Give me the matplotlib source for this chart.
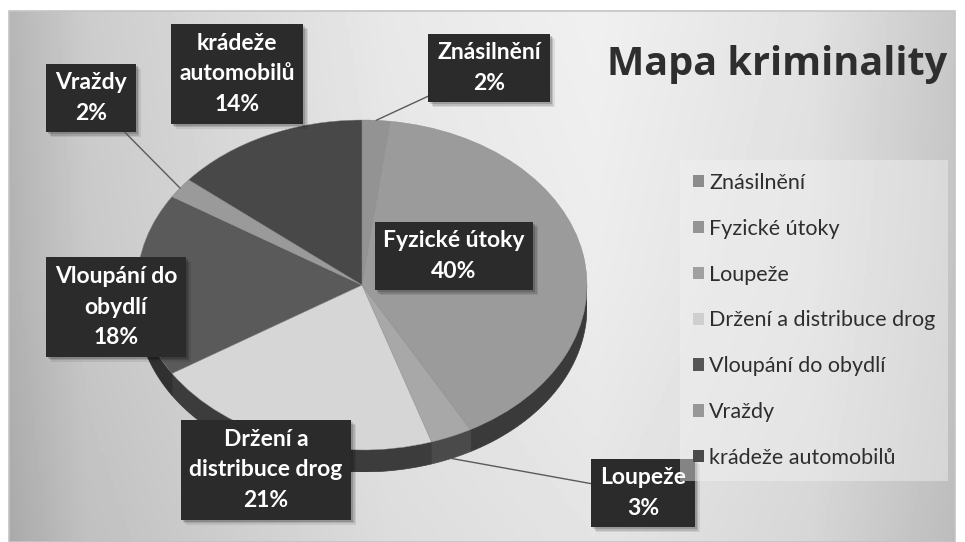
import numpy as np
import matplotlib
matplotlib.use("Agg")
import matplotlib.pyplot as plt
from matplotlib.patches import Polygon, Rectangle

# data
categories = ["Znásilnění", "Fyzické útoky", "Loupeže", "Držení a distribuce drog",
              "Vloupání do obydlí", "Vraždy", "krádeže automobilů"]
values = [2, 40, 3, 21, 18, 2, 14]
box_labels = ["Znásilnění", "Fyzické útoky", "Loupeže", "Držení a\ndistribuce drog",
              "Vloupání do\nobydlí", "Vraždy", "krádeže\nautomobilů"]
colors = ["#939393", "#9b9b9b", "#a8a8a8", "#d6d6d6", "#5a5a5a", "#9a9a9a", "#484848"]
side_colors = ["#3e3e3e", "#3a3a3a", "#4a4a4a", "#3c3c3c", "#303030", "#3e3e3e", "#2e2e2e"]
legend_colors = ["#8c8c8c", "#949494", "#a0a0a0", "#cfcfcf", "#555555", "#979797", "#4a4a4a"]

W, H = 965, 542
fig = plt.figure(figsize=(W / 100, H / 100), dpi=100)
fig.patch.set_facecolor("white")

# background panel with grey gradient
ax_bg = fig.add_axes([0, 0, 1, 1], zorder=0)
ax_bg.set_xlim(0, W)
ax_bg.set_ylim(H, 0)
ax_bg.axis("off")
gx = np.linspace(0, 1, 300)
row = np.interp(gx, [0, 0.08, 0.4, 0.62, 0.85, 1], [178, 200, 228, 236, 222, 196])
gy = np.linspace(0, 1, 100)
col = np.interp(gy, [0, 0.5, 1], [4, 0, -8])
grad = np.clip(row[None, :] + col[:, None], 0, 255) / 255
ax_bg.imshow(grad, cmap="gray", vmin=0, vmax=1, extent=(9, 955, 542, 11), aspect="auto")
ax_bg.add_patch(Rectangle((9, 11), 946, 531, fill=False, edgecolor="#c4c4c4", lw=1.2))

# pie axes, stretched so the circle becomes a tilted ellipse
cx, cy, a, b, depth = 362, 285, 225, 165, 22
d = depth / b
ax_pie = fig.add_axes([(cx - a) / W, (H - (cy + b + depth)) / H, 2 * a / W, (2 * b + depth) / H],
                      zorder=1)
ax_pie.patch.set_alpha(0)

# side band of the 3D pie (front half only)
fracs = np.array(values) / sum(values)
cum = np.concatenate([[0], np.cumsum(fracs)])
for i in range(len(values)):
    t_start = 90 - 360 * cum[i]
    t_end = 90 - 360 * cum[i + 1]
    t = np.radians(np.linspace(t_end, t_start, 300))
    t = t[np.sin(t) <= 0]
    if len(t) < 2:
        continue
    top = np.column_stack([np.cos(t), np.sin(t)])
    bot = np.column_stack([np.cos(t), np.sin(t) - d])[::-1]
    ax_pie.add_patch(Polygon(np.vstack([top, bot]), closed=True, facecolor=side_colors[i],
                             edgecolor=side_colors[i], lw=0.5, zorder=0.5))

wedges, _ = ax_pie.pie(values, colors=colors, startangle=90, counterclock=False,
                       radius=1, wedgeprops=dict(linewidth=0.3, edgecolor="#8a8a8a"))
ax_pie.set_aspect("auto")
ax_pie.set_xlim(-1, 1)
ax_pie.set_ylim(-1 - d, 1)
ax_pie.axis("off")

# overlay for labels, title, legend
ax_top = fig.add_axes([0, 0, 1, 1], zorder=2)
ax_top.set_xlim(0, W)
ax_top.set_ylim(H, 0)
ax_top.axis("off")
ax_top.patch.set_alpha(0)

label_pos = [(489, 68), (454, 256), (643, 493), (266, 470), (116, 307), (91, 98), (237, 74)]
leader = [True, False, True, False, False, True, False]
lab_font = ["Lato", "DejaVu Sans"]
fs = 16.5
box = dict(boxstyle="square,pad=0.38", facecolor="#2b2b2b", edgecolor="none")
label_texts = []
for i, name in enumerate(box_labels):
    txt = f"{name}\n{values[i]}%"
    kw = dict(ha="center", va="center", fontsize=fs, fontweight="bold",
              family=lab_font, linespacing=1.55, zorder=3)
    sx, sy = label_pos[i]
    if leader[i]:
        mid = np.radians(90 - 360 * (cum[i] + cum[i + 1]) / 2)
        px, py = np.cos(mid), np.sin(mid)
        if py < 0:
            py -= d
        t = ax_top.annotate(txt, xy=(px, py), xycoords=ax_pie.transData,
                            xytext=label_pos[i], textcoords="data", color="white", bbox=box,
                            arrowprops=dict(arrowstyle="-", color="#5a5a5a", lw=1,
                                            shrinkA=0, shrinkB=0), **kw)
    else:
        t = ax_top.text(sx, sy, txt, color="white", bbox=box, **kw)
    label_texts.append(t)

ax_top.text(777, 65, "Mapa kriminality", ha="center", va="center", fontsize=28.5,
            fontweight="bold", color="#2e2e2e", family=["Open Sans", "DejaVu Sans"])

handles = []
for w, c in zip(wedges, legend_colors):
    handles.append(Rectangle((0, 0), 1, 1, facecolor=c, edgecolor="none"))
leg = ax_top.legend(handles, categories, loc="upper left",
                    bbox_to_anchor=(680 / W, 1 - 160 / H), bbox_transform=fig.transFigure,
                    prop={"family": lab_font, "size": 15.5}, labelcolor="#2e2e2e",
                    handlelength=0.5, handleheight=0.5, handletextpad=0.25,
                    labelspacing=1.2, borderpad=0.6, borderaxespad=0,
                    frameon=True, fancybox=False)
leg.get_frame().set_facecolor("#f2f2f2")
leg.get_frame().set_alpha(0.45)
leg.get_frame().set_edgecolor("none")

# soft drop shadows behind the label boxes
fig.canvas.draw()
inv = ax_top.transData.inverted()
for t in label_texts:
    ext = t.get_bbox_patch().get_window_extent()
    (x0, y0), (x1, y1) = inv.transform([[ext.x0, ext.y0], [ext.x1, ext.y1]])
    for k, al in [(5, 0.08), (3.5, 0.12), (2, 0.16)]:
        ax_top.add_patch(Rectangle((min(x0, x1) + k, min(y0, y1) + k), abs(x1 - x0),
                                   abs(y1 - y0), facecolor=(0, 0, 0, al),
                                   edgecolor="none", zorder=2))

fig.savefig("out.png", dpi=100)
